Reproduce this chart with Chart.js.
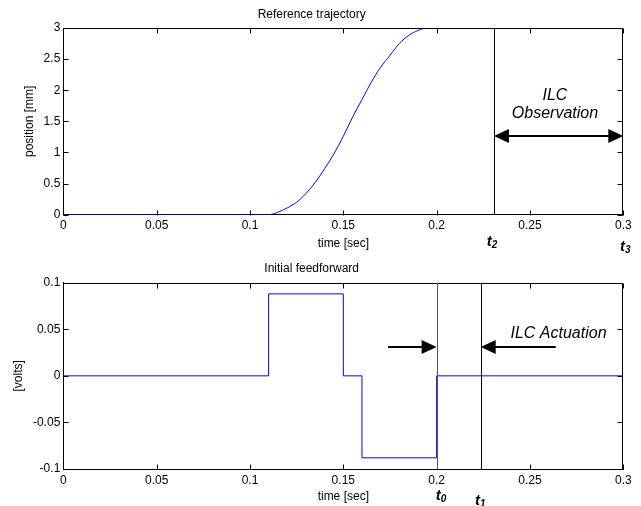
<!DOCTYPE html>
<html lang="en">

<head>
    <meta charset="UTF-8">
    <title>Reference trajectory / Initial feedforward</title>
    <script src="https://cdn.jsdelivr.net/npm/chart.js"></script>
    <style>
        body { margin: 0; background: #fff; }
        .panel { position: absolute; left: 0; width: 641px; height: 253px; }
        #top { top: 0; }
        #bottom { top: 253px; }
    </style>
</head>

<body>
    <div class="panel" id="top"><canvas id="refChart" width="641" height="253"></canvas></div>
    <div class="panel" id="bottom"><canvas id="ffChart" width="641" height="253"></canvas></div>

    <script>
        // reference trajectory
        const refTime = [0, 0.105, 0.11, 0.115, 0.12, 0.125, 0.13, 0.135, 0.14, 0.145, 0.15, 0.155,
            0.16, 0.165, 0.17, 0.175, 0.18, 0.185, 0.19, 0.195, 0.3];
        const refPosition = [0, 0, 0, 0.04, 0.11, 0.2, 0.34, 0.52, 0.74, 0.98, 1.26, 1.57,
            1.85, 2.13, 2.37, 2.56, 2.75, 2.88, 2.96, 3, 3];

        // initial feedforward (step signal, value holds until next time)
        const ffTime = [0, 0.11, 0.15, 0.16, 0.2, 0.3];
        const ffVolts = [0, 0.088, 0, -0.088, 0, 0];

        // t2, t3 (top) and t0, t1 (bottom)
        const obsTimes = [0.2307, 0.3];
        const actTimes = [0.2, 0.2236];

        const xTickStep = 0.05;
        const refTickStep = 0.5;
        const ffTickStep = 0.05;

        Chart.defaults.font.family = "'Liberation Sans', Arial, sans-serif";
        Chart.defaults.font.size = 12;
        Chart.defaults.color = '#000';

        // matlab prints ticks without trailing zeros
        const plainTick = v => String(parseFloat(Number(v).toFixed(4)));

        function arrowHead(ctx, tipX, y, dir) {
            ctx.beginPath();
            ctx.moveTo(tipX, y);
            ctx.lineTo(tipX - dir * 15, y - 7);
            ctx.lineTo(tipX - dir * 15, y + 7);
            ctx.closePath();
            ctx.fill();
        }

        function tLabel(ctx, x, y, sub) {
            ctx.font = "italic bold 15px 'Liberation Sans', Arial, sans-serif";
            ctx.textAlign = 'left';
            ctx.textBaseline = 'alphabetic';
            ctx.fillText('t', x, y);
            const w = ctx.measureText('t').width;
            ctx.font = "italic bold 10px 'Liberation Sans', Arial, sans-serif";
            ctx.fillText(sub, x + w, y + 2);
        }

        // matlab style frame: box plus inward tick marks on all four sides
        const framePlugin = {
            id: 'frame',
            afterDraw(chart) {
                const { ctx, chartArea: a, scales: { x, y } } = chart;
                ctx.save();
                ctx.strokeStyle = '#000';
                ctx.lineWidth = 1;
                const t = Math.round(a.top) + 0.5, b = Math.round(a.bottom) + 0.5;
                const l = Math.round(a.left) + 0.5, r = Math.round(a.right) - 0.5;
                ctx.beginPath();
                ctx.moveTo(l, t); ctx.lineTo(r, t); ctx.lineTo(r, b);
                x.ticks.forEach(tk => {
                    const px = Math.round(x.getPixelForValue(tk.value)) + 0.5;
                    ctx.moveTo(px, b); ctx.lineTo(px, b - 5);
                    ctx.moveTo(px, t); ctx.lineTo(px, t + 5);
                });
                y.ticks.forEach(tk => {
                    const py = Math.round(y.getPixelForValue(tk.value)) + 0.5;
                    ctx.moveTo(l, py); ctx.lineTo(l + 5, py);
                    ctx.moveTo(r, py); ctx.lineTo(r - 5, py);
                });
                ctx.stroke();
                ctx.restore();
            }
        };

        const obsPlugin = {
            id: 'observation',
            afterDraw(chart) {
                const { ctx, chartArea: a, scales: { x, y } } = chart;
                const x2 = x.getPixelForValue(obsTimes[0]);
                const x3 = x.getPixelForValue(obsTimes[1]);
                ctx.save();
                ctx.strokeStyle = '#000';
                ctx.fillStyle = '#000';
                ctx.lineWidth = 1;
                ctx.beginPath();
                ctx.moveTo(Math.round(x2) + 0.5, a.top);
                ctx.lineTo(Math.round(x2) + 0.5, a.bottom);
                ctx.stroke();

                const ay = Math.round(y.getPixelForValue(1.265));
                ctx.lineWidth = 2;
                ctx.beginPath();
                ctx.moveTo(x2 + 10, ay);
                ctx.lineTo(x3 - 10, ay);
                ctx.stroke();
                arrowHead(ctx, x2, ay, -1);
                arrowHead(ctx, x3, ay, 1);

                ctx.font = "italic 16px 'Liberation Sans', Arial, sans-serif";
                ctx.textAlign = 'center';
                ctx.textBaseline = 'alphabetic';
                const cx = x.getPixelForValue(0.2634);
                ctx.fillText('ILC', cx, y.getPixelForValue(1.843));
                ctx.fillText('Observation', cx, y.getPixelForValue(1.554));

                tLabel(ctx, x2 - 7.3, a.bottom + 31.3, '2');
                tLabel(ctx, x3 - 3.3, a.bottom + 35.8, '3');
                ctx.restore();
            }
        };

        const actPlugin = {
            id: 'actuation',
            afterDraw(chart) {
                const { ctx, chartArea: a, scales: { x, y } } = chart;
                const x0 = x.getPixelForValue(actTimes[0]);
                const x1 = x.getPixelForValue(actTimes[1]);
                ctx.save();
                ctx.lineWidth = 1;
                ctx.strokeStyle = '#555';
                ctx.beginPath();
                ctx.moveTo(Math.round(x0) + 0.5, a.top);
                ctx.lineTo(Math.round(x0) + 0.5, a.bottom);
                ctx.stroke();
                ctx.strokeStyle = '#000';
                ctx.beginPath();
                ctx.moveTo(Math.round(x1) + 0.5, a.top);
                ctx.lineTo(Math.round(x1) + 0.5, a.bottom);
                ctx.stroke();

                ctx.fillStyle = '#000';
                const ay = Math.round(y.getPixelForValue(0.0305));
                ctx.lineWidth = 2;
                ctx.beginPath();
                ctx.moveTo(x.getPixelForValue(0.174), ay);
                ctx.lineTo(x0 - 10, ay);
                ctx.moveTo(x.getPixelForValue(0.2638), ay);
                ctx.lineTo(x1 + 10, ay);
                ctx.stroke();
                arrowHead(ctx, x0, ay, 1);
                arrowHead(ctx, x1, ay, -1);

                ctx.font = "italic 16px 'Liberation Sans', Arial, sans-serif";
                ctx.textAlign = 'center';
                ctx.textBaseline = 'alphabetic';
                ctx.fillText('ILC Actuation', x.getPixelForValue(0.2653), y.getPixelForValue(0.0408));

                tLabel(ctx, x0 - 1, a.bottom + 31, '0');
                tLabel(ctx, x1 - 5.7, a.bottom + 36, '1');
                ctx.restore();
            }
        };

        function xAxis(height) {
            return {
                type: 'linear',
                min: 0,
                max: 0.3,
                afterFit: s => { s.height = height; },
                grid: { display: false, drawTicks: false },
                border: { display: true, color: '#000', width: 1 },
                ticks: { stepSize: xTickStep, padding: 4, maxRotation: 0, autoSkip: false, callback: plainTick },
                title: { display: true, text: 'time [sec]', padding: { top: 0, bottom: 2.3 } }
            };
        }

        function yAxis(min, max, step, label, titlePad) {
            return {
                min: min,
                max: max,
                afterFit: s => { s.width = 63.3; },
                grid: { display: false, drawTicks: false },
                border: { display: true, color: '#000', width: 1 },
                ticks: { stepSize: step, padding: 3, callback: plainTick },
                title: { display: true, text: label, padding: { top: titlePad, bottom: 0 } }
            };
        }

        new Chart(document.getElementById('refChart'), {
            type: 'scatter',
            data: {
                datasets: [{
                    data: refTime.map((t, i) => ({ x: t, y: refPosition[i] })),
                    showLine: true,
                    borderColor: '#0000ff',
                    borderWidth: 1,
                    pointRadius: 0,
                    cubicInterpolationMode: 'monotone'
                }]
            },
            options: {
                responsive: false,
                animation: false,
                devicePixelRatio: 1,
                layout: { padding: { top: 0, right: 17.7, bottom: 0, left: 0 } },
                scales: {
                    x: xAxis(38.3),
                    y: yAxis(0, 3, refTickStep, 'position [mm]', 22)
                },
                plugins: {
                    legend: { display: false },
                    tooltip: { enabled: false },
                    title: {
                        display: true,
                        text: 'Reference trajectory',
                        font: { size: 12, weight: 'normal' },
                        padding: { top: 7.6, bottom: 6 }
                    }
                }
            },
            plugins: [framePlugin, obsPlugin]
        });

        new Chart(document.getElementById('ffChart'), {
            type: 'scatter',
            data: {
                datasets: [{
                    data: ffTime.map((t, i) => ({ x: t, y: ffVolts[i] })),
                    showLine: true,
                    stepped: 'before',
                    borderColor: '#0000ff',
                    borderWidth: 1,
                    pointRadius: 0
                }]
            },
            options: {
                responsive: false,
                animation: false,
                devicePixelRatio: 1,
                layout: { padding: { top: 0, right: 17.7, bottom: 0, left: 0 } },
                scales: {
                    x: xAxis(37),
                    y: yAxis(-0.1, 0.1, ffTickStep, '[volts]', 11.8)
                },
                plugins: {
                    legend: { display: false },
                    tooltip: { enabled: false },
                    title: {
                        display: true,
                        text: 'Initial feedforward',
                        font: { size: 12, weight: 'normal' },
                        padding: { top: 8.9, bottom: 6.4 }
                    }
                }
            },
            plugins: [framePlugin, actPlugin]
        });
    </script>
</body>

</html>
